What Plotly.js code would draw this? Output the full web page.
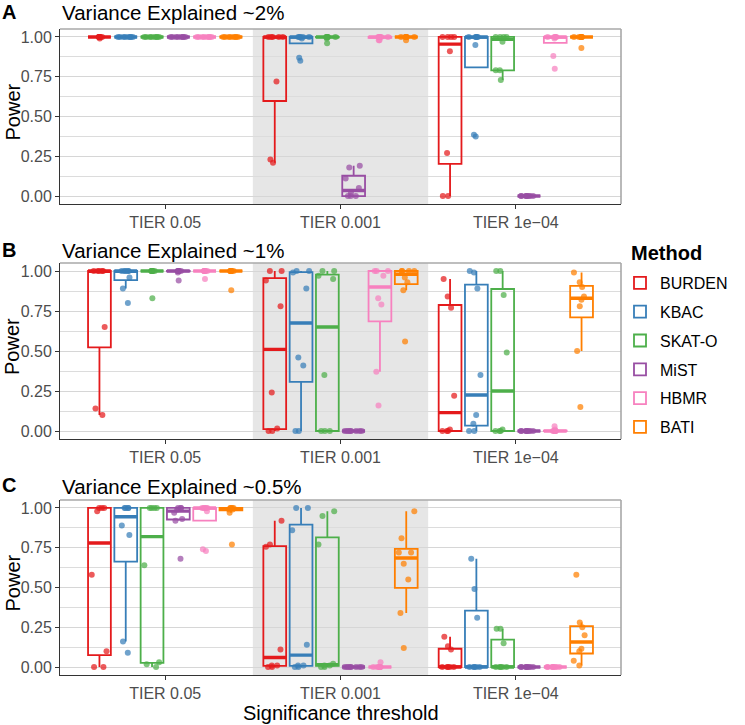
<!DOCTYPE html>
<html>
<head>
<meta charset="utf-8">
<script src="https://cdn.plot.ly/plotly-3.0.1.min.js"></script>
<style>html,body{margin:0;padding:0;background:#fff;}#chart{width:745px;height:725px;}</style>
</head>
<body>
<div id="chart"></div>
<script>
// ---------------- DATA ----------------
const tierLabels = ['TIER 0.05', 'TIER 0.001', 'TIER 1e\u221204'];
const methods = ['BURDEN', 'KBAC', 'SKAT-O', 'MiST', 'HBMR', 'BATI'];
const panelTags = ['A', 'B', 'C'];
const panelTitles = ['Variance Explained ~2%', 'Variance Explained ~1%', 'Variance Explained ~0.5%'];

// Panel A (~2%): each array = [TIER 0.05, TIER 0.001, TIER 1e-04], 8 power values each
const A_BURDEN = [[0.99,1,1,1,1,1,1,1],[0.21,0.23,0.72,1,1,1,1,1],[0,0,0.27,0.91,1,1,1,1]];
const A_KBAC   = [[1,1,1,1,1,1,1,1],[0.85,0.87,0.99,1,1,1,1,1],[0.375,0.385,0.95,1,1,1,1,1]];
const A_SKATO  = [[1,1,1,1,1,1,1,1],[0.96,0.99,1,1,1,1,1,1],[0.73,0.79,0.79,0.97,1,1,1,1]];
const A_MIST   = [[1,1,1,1,1,1,1,1],[0,0,0,0.02,0.05,0.11,0.18,0.19],[0,0,0,0,0,0,0,0]];
const A_HBMR   = [[1,1,1,1,1,1,1,1],[0.98,0.98,1,1,1,1,1,1],[0.80,0.88,0.99,1,1,1,1,1]];
const A_BATI   = [[1,1,1,1,1,1,1,1],[0.98,1,1,1,1,1,1,1],[0.93,1,1,1,1,1,1,1]];

// Panel B (~1%)
const B_BURDEN = [[0.10,0.14,0.65,1,1,1,1,1],[0,0,0.016,0.24,0.78,0.94,1,1],[0,0,0,0.01,0.22,0.77,0.84,0.95]];
const B_KBAC   = [[0.80,0.89,0.96,1,1,1,1,1],[0,0,0.41,0.46,0.89,0.99,1,1],[0,0,0.045,0.10,0.35,0.89,0.99,1]];
const B_SKATO  = [[0.83,1,1,1,1,1,1,1],[0,0,0,0.35,0.95,0.97,1,1],[0,0,0,0.01,0.49,0.85,1,1]];
const B_MIST   = [[0.94,0.99,1,1,1,1,1,1],[0,0,0,0,0,0,0,0],[0,0,0,0,0,0,0,0]];
const B_HBMR   = [[0.95,1,1,1,1,1,1,1],[0.16,0.37,0.79,0.83,0.97,1,1,1],[0,0,0,0,0,0,0.01,0.03]];
const B_BATI   = [[0.88,1,1,1,1,1,1,1],[0.56,0.88,0.93,0.96,1,1,1,1],[0.15,0.50,0.78,0.82,0.84,0.90,0.93,0.99]];

// Panel C (~0.5%)
const C_BURDEN = [[0,0,0.10,0.58,0.98,1,1,1],[0,0,0.01,0.01,0.11,0.756,0.77,0.92],[0,0,0,0,0,0.11,0.13,0.19]];
const C_KBAC   = [[0.09,0.16,0.83,0.89,1,1,1,1],[0,0,0.01,0.01,0.14,0.86,1,1],[0,0,0,0,0,0.31,0.49,0.68]];
const C_SKATO  = [[0,0.017,0.03,0.64,1,1,1,1],[0,0,0.01,0.01,0.02,0.77,0.95,0.98],[0,0,0,0,0,0.15,0.24,0.24]];
const C_MIST   = [[0.68,0.92,0.93,0.97,0.99,1,1,1],[0,0,0,0,0,0,0,0],[0,0,0,0,0,0,0,0]];
const C_HBMR   = [[0.73,0.74,0.98,1,1,1,1,1],[0,0,0,0,0,0,0,0.03],[0,0,0,0,0,0,0,0]];
const C_BATI   = [[0.77,0.97,0.99,0.99,1,1,1,1],[0.12,0.34,0.55,0.65,0.72,0.72,0.81,0.98],[0.01,0.04,0.10,0.115,0.20,0.25,0.28,0.58]];

const yTickVals = [0, 0.25, 0.5, 0.75, 1];
const yTickText = ['0.00', '0.25', '0.50', '0.75', '1.00'];

// ---------------- STYLE ----------------
const colors = ['#E41A1C', '#377EB8', '#4DAF4A', '#984EA3', '#F781BF', '#FF7F00'];
const panels = [
  [A_BURDEN, A_KBAC, A_SKATO, A_MIST, A_HBMR, A_BATI],
  [B_BURDEN, B_KBAC, B_SKATO, B_MIST, B_HBMR, B_BATI],
  [C_BURDEN, C_KBAC, C_SKATO, C_MIST, C_HBMR, C_BATI]
];
const FONT = '"Liberation Sans", Arial, Helvetica, sans-serif';
const dodge = 0.15, boxW = 0.13;
const offsets = methods.map((_, i) => (i - (methods.length - 1) / 2) * dodge);

// R type-7 quantile (as used by ggplot2 stat_boxplot)
function quantile(arr, q) {
  const s = arr.slice().sort((a, b) => a - b);
  const pos = (s.length - 1) * q;
  const lo = Math.floor(pos), hi = Math.ceil(pos);
  return s[lo] + (s[hi] - s[lo]) * (pos - lo);
}
function boxStats(vals) {
  const q1 = quantile(vals, 0.25), med = quantile(vals, 0.5), q3 = quantile(vals, 0.75);
  const iqr = q3 - q1;
  const inL = vals.filter(v => v >= q1 - 1.5 * iqr - 1e-12);
  const inU = vals.filter(v => v <= q3 + 1.5 * iqr + 1e-12);
  return { q1, med, q3, lf: Math.min(q1, Math.min(...inL)), uf: Math.max(q3, Math.max(...inU)) };
}

// layout geometry (pixels)
const W = 745, H = 725;
const mL = 60, mR = 124, mT = 29, mB = 50;
const plotH = H - mT - mB;
const panelPx = [[29, 204], [263, 439], [500, 675]];
const toPaperY = py => (H - mB - py) / plotH;
const toPaperX = px => (px - mL) / (W - mL - mR);

const boxTraces = [], medTraces = [], ptTraces = [];
panels.forEach((panel, p) => {
  const xa = p === 0 ? 'x' : 'x' + (p + 1);
  const ya = p === 0 ? 'y' : 'y' + (p + 1);
  panel.forEach((series, m) => {
    const pos = series.map((_, t) => t + offsets[m]);
    const st = series.map(boxStats);
    boxTraces.push({
      type: 'box', xaxis: xa, yaxis: ya, x: pos,
      q1: st.map(s => s.q1), median: st.map(s => s.med), q3: st.map(s => s.q3),
      lowerfence: st.map(s => s.lf), upperfence: st.map(s => s.uf),
      name: methods[m], legendgroup: methods[m], showlegend: p === 0,
      width: boxW, whiskerwidth: 0, boxpoints: false,
      line: { color: colors[m], width: 1.8 }, fillcolor: 'rgba(0,0,0,0)',
      hoverinfo: 'skip'
    });
    medTraces.push({
      type: 'box', xaxis: xa, yaxis: ya, x: pos,
      q1: st.map(s => s.med), median: st.map(s => s.med), q3: st.map(s => s.med),
      lowerfence: st.map(s => s.med), upperfence: st.map(s => s.med),
      width: boxW, whiskerwidth: 0, boxpoints: false, showlegend: false, legendgroup: methods[m],
      line: { color: colors[m], width: 3.4 }, fillcolor: 'rgba(0,0,0,0)',
      hoverinfo: 'skip'
    });
    const xs = [], ys = [];
    series.forEach((vals, t) => vals.forEach(v => { xs.push(pos[t]); ys.push(v); }));
    ptTraces.push({
      type: 'box', x: xs, y: ys, xaxis: xa, yaxis: ya,
      showlegend: false, legendgroup: methods[m],
      width: boxW, whiskerwidth: 0,
      boxpoints: 'all', jitter: 0.8, pointpos: 0,
      line: { color: 'rgba(0,0,0,0)', width: 0 },
      fillcolor: 'rgba(0,0,0,0)',
      marker: { color: colors[m], size: 6, opacity: 0.72 },
      hoverinfo: 'skip'
    });
  });
});
const traces = boxTraces.concat(medTraces, ptTraces);

const layout = {
  width: W, height: H,
  margin: { l: mL, r: mR, t: mT, b: mB, pad: 0 },
  paper_bgcolor: '#ffffff', plot_bgcolor: '#ffffff',
  font: { family: FONT, size: 16, color: '#000' },
  showlegend: true,
  legend: {
    x: toPaperX(620), xanchor: 'left', y: toPaperY(266), yanchor: 'top',
    font: { family: FONT, size: 16, color: '#000' },
    tracegroupgap: 5, bgcolor: 'rgba(0,0,0,0)', borderwidth: 0
  },
  hovermode: false,
  boxmode: 'overlay',
  shapes: [], annotations: []
};

panels.forEach((_, p) => {
  const sfx = p === 0 ? '' : String(p + 1);
  const [top, bot] = panelPx[p];
  layout['xaxis' + sfx] = {
    domain: [0, 1], anchor: 'y' + sfx, range: [-0.6, 2.6],
    tickmode: 'array', tickvals: [0, 1, 2], ticktext: tierLabels,
    showgrid: false, zeroline: false,
    showline: true, linecolor: '#333333', linewidth: 1,
    ticks: 'outside', ticklen: 4, tickcolor: '#333333', tickwidth: 1,
    tickfont: { family: FONT, size: 16, color: '#4d4d4d' },
    fixedrange: true
  };
  layout['yaxis' + sfx] = {
    domain: [toPaperY(bot), toPaperY(top)], anchor: 'x' + sfx, range: [-0.05, 1.05],
    tickmode: 'array', tickvals: yTickVals, ticktext: yTickText,
    showgrid: true, gridcolor: '#d6d6d6', gridwidth: 1,
    minor: { tickvals: [0.125, 0.375, 0.625, 0.875], showgrid: true, gridcolor: '#dcdcdc', gridwidth: 1, ticks: '' },
    zeroline: false,
    showline: true, linecolor: '#333333', linewidth: 1,
    ticks: 'outside', ticklen: 4, tickcolor: '#333333', tickwidth: 1,
    tickfont: { family: FONT, size: 16, color: '#4d4d4d' },
    fixedrange: true
  };
  layout.shapes.push({
    type: 'rect', xref: 'x' + sfx, yref: 'y' + sfx + ' domain',
    x0: 0.5, x1: 1.5, y0: 0, y1: 1,
    fillcolor: '#e6e6e6', line: { width: 0 }, layer: 'below'
  });
  layout.shapes.push({
    type: 'line', xref: 'x' + sfx + ' domain', yref: 'y' + sfx + ' domain',
    x0: 0, x1: 1, y0: 1, y1: 1, line: { color: '#a8a8a8', width: 1.6 }, layer: 'above'
  });
  layout.shapes.push({
    type: 'line', xref: 'x' + sfx + ' domain', yref: 'y' + sfx + ' domain',
    x0: 1, x1: 1, y0: 0, y1: 1, line: { color: '#a8a8a8', width: 1.6 }, layer: 'above'
  });
  const titleY = [13, 251, 486.5][p];
  layout.annotations.push({
    text: panelTitles[p], xref: 'paper', yref: 'paper',
    x: 0, xanchor: 'left', y: toPaperY(titleY), yanchor: 'middle',
    showarrow: false, font: { family: FONT, size: 20.5, color: '#000' }
  });
  layout.annotations.push({
    text: '<b>' + panelTags[p] + '</b>', xref: 'paper', yref: 'paper',
    x: toPaperX(0), xanchor: 'left', y: toPaperY(titleY - 1), yanchor: 'middle',
    showarrow: false, font: { family: FONT, size: 20, color: '#000' }
  });
  layout.annotations.push({
    text: 'Power', xref: 'paper', yref: 'paper', textangle: -90,
    x: toPaperX(12), xanchor: 'center', y: toPaperY((top + bot) / 2 - 4), yanchor: 'middle',
    showarrow: false, font: { family: FONT, size: 20, color: '#000' }
  });
});

layout.annotations.push({
  text: 'Significance threshold', xref: 'paper', yref: 'paper',
  x: 0.5, xanchor: 'center', y: toPaperY(713), yanchor: 'middle',
  showarrow: false, font: { family: FONT, size: 20, color: '#000' }
});
layout.annotations.push({
  text: '<b>Method</b>', xref: 'paper', yref: 'paper',
  x: toPaperX(629), xanchor: 'left', y: toPaperY(253), yanchor: 'middle',
  showarrow: false, font: { family: FONT, size: 20, color: '#000' }
});

Plotly.newPlot('chart', traces, layout, { displayModeBar: false, staticPlot: true });
</script>
</body>
</html>
